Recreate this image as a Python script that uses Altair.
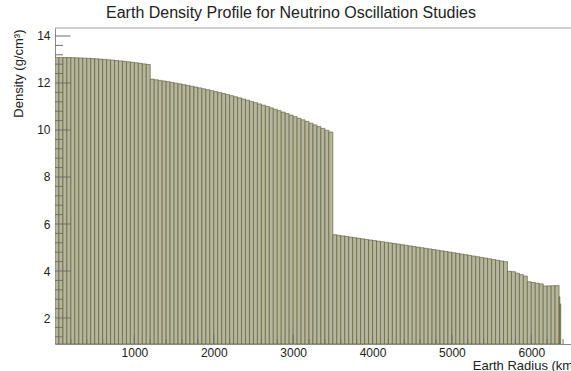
import altair as alt
import pandas as pd
import numpy as np

# Radius bins in km: 50 km wide out to 6350 km, then two thin crustal bins
bin_lo = list(range(0, 6350, 50)) + [6350, 6360]
bin_hi = list(range(50, 6400, 50)) + [6360, 6371]

# Density per bin (g/cm^3), layer by layer from the centre outwards
inner_core = [13.088, 13.087, 13.085, 13.082, 13.077, 13.072, 13.066, 13.058,
              13.049, 13.039, 13.028, 13.017, 13.003, 12.989, 12.974, 12.958,
              12.940, 12.922, 12.902, 12.882, 12.860, 12.837, 12.813, 12.788]
outer_core = [12.165, 12.138, 12.111, 12.084, 12.055, 12.025, 11.994, 11.963,
              11.930, 11.897, 11.863, 11.827, 11.791, 11.753, 11.715, 11.675,
              11.634, 11.592, 11.550, 11.506, 11.460, 11.414, 11.367, 11.318,
              11.268, 11.217, 11.164, 11.111, 11.056, 11.000, 10.942, 10.883,
              10.823, 10.761, 10.699, 10.634, 10.568, 10.501, 10.433, 10.363,
              10.291, 10.218, 10.144, 10.068, 9.991, 9.911]
lower_mantle = [5.544, 5.519, 5.494, 5.469, 5.444, 5.419, 5.394, 5.370,
                5.345, 5.320, 5.295, 5.270, 5.245, 5.220, 5.195, 5.169,
                5.144, 5.119, 5.093, 5.068, 5.042, 5.016, 4.990, 4.964,
                4.938, 4.911, 4.885, 4.858, 4.831, 4.804, 4.776, 4.749,
                4.721, 4.693, 4.664, 4.636, 4.607, 4.578, 4.549, 4.519,
                4.489, 4.459, 4.428, 4.397]
upper_mantle = [3.987, 3.971, 3.908, 3.845, 3.782, 3.541, 3.511, 3.481,
                3.451, 3.362, 3.368, 3.373, 3.378]
crust = [2.9, 2.6]

density = inner_core + outer_core + lower_mantle + upper_mantle + crust

# Axis tick positions
x_labels = [1000, 2000, 3000, 4000, 5000, 6000]
x_minor = [v for v in range(200, 6500, 200) if v % 1000 != 0]
y_labels = [2, 4, 6, 8, 10, 12, 14]
y_minor = [round(v, 1) for v in np.arange(1.2, 14.3, 0.4) if abs(v / 2 - round(v / 2)) > 1e-6]

W, H = 516, 316
FONT = "Liberation Sans"
TICK = "#6e6e6e"

df = pd.DataFrame({"r0": bin_lo, "r1": bin_hi, "rho": density})

x_scale = alt.Scale(domain=[0, 6500], nice=False, zero=False)
y_scale = alt.Scale(domain=[0.894, 14.34], nice=False, zero=False)

x_axis = alt.Axis(
    values=x_labels, format="d", tickSize=0, labelPadding=3, grid=False,
    labelFont=FONT, labelFontSize=12, labelColor="#222",
    domainColor="#8a8a8a", domainWidth=1,
    title="Earth Radius (km)", titleFont=FONT, titleFontSize=13,
    titleFontWeight="normal", titleColor="#222",
    titleX=522, titleY=25, titleAlign="right", titleBaseline="alphabetic")
y_axis = alt.Axis(
    values=y_labels, format="d", tickSize=0, labelPadding=5, grid=False,
    labelFont=FONT, labelFontSize=12, labelColor="#222",
    domainColor="#8a8a8a", domainWidth=1,
    title="Density (g/cm³)", titleFont=FONT, titleFontSize=13,
    titleFontWeight="normal", titleColor="#222",
    titleAngle=-90, titleX=-33, titleY=1, titleAlign="right",
    titleBaseline="alphabetic")

bars = alt.Chart(df).mark_bar(
    fill="#b6b69e", stroke="#55552a", strokeWidth=0.6, clip=True
).encode(
    x=alt.X("r0:Q", scale=x_scale, axis=x_axis),
    x2="r1:Q",
    y=alt.Y("rho:Q", scale=y_scale, axis=y_axis),
    y2=alt.datum(0.894),
)

# Tick marks drawn inward from the axes
y_major_ticks = alt.Chart(pd.DataFrame({"v": y_labels})).mark_rule(
    color=TICK, strokeWidth=1).encode(
    y=alt.Y("v:Q", scale=y_scale, axis=y_axis),
    x=alt.value(0), x2=alt.value(15.5))
y_minor_ticks = alt.Chart(pd.DataFrame({"v": y_minor})).mark_rule(
    color=TICK, strokeWidth=1).encode(
    y=alt.Y("v:Q", scale=y_scale, axis=y_axis),
    x=alt.value(0), x2=alt.value(8))
x_major_ticks = alt.Chart(pd.DataFrame({"v": x_labels})).mark_rule(
    color=TICK, strokeWidth=1).encode(
    x=alt.X("v:Q", scale=x_scale, axis=x_axis),
    y=alt.value(H), y2=alt.value(H - 9.5))
x_minor_ticks = alt.Chart(pd.DataFrame({"v": x_minor})).mark_rule(
    color=TICK, strokeWidth=1).encode(
    x=alt.X("v:Q", scale=x_scale, axis=x_axis),
    y=alt.value(H), y2=alt.value(H - 4.8))

# Upper edge of the frame
top_line = alt.Chart(pd.DataFrame({"v": [0]})).mark_rule(
    color="#a0a0a0", strokeWidth=1).encode(
    x=alt.value(0), x2=alt.value(W), y=alt.value(0))

chart = alt.layer(
    bars, y_minor_ticks, y_major_ticks, x_minor_ticks, x_major_ticks, top_line
).properties(
    width=W, height=H,
    title=alt.TitleParams(
        "Earth Density Profile for Neutrino Oscillation Studies",
        font=FONT, fontSize=16, fontWeight="normal", color="#222",
        anchor="middle", dx=-22, offset=7),
    padding={"left": 55, "top": 28, "right": 0, "bottom": 27},
    autosize=alt.AutoSizeParams(type="none"),
    background="white",
).configure_view(strokeWidth=0)

chart.save("out.html", embed_options={"renderer": "svg", "actions": False})
